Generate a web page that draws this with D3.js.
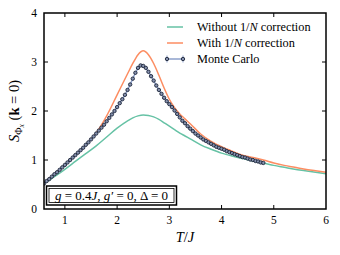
<!DOCTYPE html>
<html>
<head>
<meta charset="utf-8">
<script src="https://cdn.jsdelivr.net/npm/d3@7"></script>
<style>
  body { margin: 0; background: #fff; }
  text { font-family: "Liberation Serif", serif; fill: #000; }
</style>
</head>
<body>
<div id="chart"></div>
<script>
// T grid for the smooth theory curves
const theoryT = [0.6, 0.8, 1.0, 1.2, 1.4, 1.6, 1.8, 2.0, 2.2, 2.3, 2.4, 2.5, 2.6, 2.7, 2.8, 2.9, 3.0,
                 3.1, 3.2, 3.3, 3.4, 3.6, 3.8, 4.0, 4.2, 4.4, 4.6, 4.8, 5.0, 5.2, 5.4, 5.6, 5.8, 6.0];
const withoutCorr = [0.52, 0.66, 0.81, 0.97, 1.13, 1.29, 1.47, 1.65, 1.80, 1.86, 1.90, 1.92, 1.91, 1.88, 1.83, 1.76, 1.69,
                     1.62, 1.55, 1.49, 1.43, 1.31, 1.22, 1.14, 1.08, 1.03, 0.98, 0.94, 0.89, 0.85, 0.81, 0.78, 0.75, 0.72];
const withCorr = [0.52, 0.71, 0.90, 1.10, 1.31, 1.55, 1.90, 2.33, 2.76, 2.97, 3.15, 3.23, 3.15, 2.97, 2.73, 2.47, 2.24,
                  2.07, 1.94, 1.84, 1.74, 1.53, 1.38, 1.27, 1.18, 1.10, 1.05, 1.00, 0.94, 0.89, 0.85, 0.81, 0.78, 0.75];

// Monte Carlo points
const mcT = [0.60, 0.65, 0.70, 0.75, 0.80, 0.85, 0.90, 0.95, 1.00, 1.05, 1.10, 1.15, 1.20, 1.25, 1.30, 1.35,
             1.40, 1.45, 1.50, 1.55, 1.60, 1.65, 1.70, 1.75, 1.80, 1.85, 1.90, 1.95, 2.00, 2.05, 2.10, 2.15,
             2.20, 2.25, 2.30, 2.35, 2.40, 2.45, 2.50, 2.55, 2.60, 2.65, 2.70, 2.75, 2.80, 2.85, 2.90, 2.95,
             3.00, 3.05, 3.10, 3.15, 3.20, 3.25, 3.30, 3.35, 3.40, 3.45, 3.50, 3.55, 3.60, 3.65, 3.70, 3.75,
             3.80, 3.85, 3.90, 3.95, 4.00, 4.05, 4.10, 4.15, 4.20, 4.25, 4.30, 4.35, 4.40, 4.45, 4.50, 4.55,
             4.60, 4.65, 4.70, 4.75, 4.80];
const mcS = [0.52, 0.57, 0.61, 0.66, 0.71, 0.75, 0.80, 0.85, 0.90, 0.95, 1.00, 1.05, 1.10, 1.15, 1.20, 1.25,
             1.31, 1.36, 1.42, 1.48, 1.54, 1.60, 1.66, 1.72, 1.79, 1.86, 1.93, 2.00, 2.08, 2.16, 2.24, 2.33,
             2.43, 2.54, 2.66, 2.78, 2.88, 2.93, 2.92, 2.88, 2.80, 2.71, 2.62, 2.52, 2.43, 2.35, 2.27, 2.20,
             2.14, 2.08, 2.01, 1.94, 1.87, 1.80, 1.75, 1.69, 1.64, 1.59, 1.54, 1.50, 1.46, 1.42, 1.39, 1.36,
             1.33, 1.30, 1.27, 1.25, 1.23, 1.21, 1.18, 1.16, 1.14, 1.12, 1.10, 1.08, 1.06, 1.05, 1.03, 1.01,
             1.00, 0.98, 0.97, 0.95, 0.94];

const xTicks = [1, 2, 3, 4, 5, 6];
const yTicks = [0, 1, 2, 3, 4];

const width = 340, height = 255;
const margin = {top: 13, right: 14, bottom: 46, left: 44};
const green = "#66c2a5", orange = "#fc8d62", blue = "#8da0cb", navy = "#1b2438";

const svg = d3.select("#chart").append("svg")
    .attr("width", width)
    .attr("height", height);

const x = d3.scaleLinear().domain([0.6, 6]).range([margin.left, width - margin.right]);
const y = d3.scaleLinear().domain([0, 4]).range([height - margin.bottom, margin.top]);

svg.append("defs").append("clipPath").attr("id", "plotClip")
    .append("rect")
    .attr("x", margin.left).attr("y", margin.top)
    .attr("width", x.range()[1] - margin.left)
    .attr("height", y.range()[0] - margin.top);

const plot = svg.append("g").attr("clip-path", "url(#plotClip)");

const line = d3.line().curve(d3.curveMonotoneX);
plot.append("path")
    .attr("d", line(theoryT.map((t, i) => [x(t), y(withoutCorr[i])])))
    .attr("fill", "none").attr("stroke", green).attr("stroke-width", 1.5);
plot.append("path")
    .attr("d", line(theoryT.map((t, i) => [x(t), y(withCorr[i])])))
    .attr("fill", "none").attr("stroke", orange).attr("stroke-width", 1.5);

const mcLine = d3.line();
plot.append("path")
    .attr("d", mcLine(mcT.map((t, i) => [x(t), y(mcS[i])])))
    .attr("fill", "none").attr("stroke", blue).attr("stroke-width", 1.5);
plot.selectAll(".mc").data(mcT).enter().append("circle")
    .attr("class", "mc")
    .attr("cx", d => x(d))
    .attr("cy", (d, i) => y(mcS[i]))
    .attr("r", 1.7)
    .attr("fill", "#8590ad")
    .attr("stroke", navy)
    .attr("stroke-width", 0.9);

// frame and inward ticks on all sides
const tickLen = 4;
const axes = svg.append("g");
const x0 = x.range()[0], x1 = x.range()[1], y0 = y.range()[0], y1 = y.range()[1];
xTicks.filter(t => t < 6).forEach(t => {
    axes.append("line").attr("x1", x(t)).attr("x2", x(t)).attr("y1", y0).attr("y2", y0 - tickLen)
        .attr("stroke", "#000").attr("stroke-width", 1);
    axes.append("line").attr("x1", x(t)).attr("x2", x(t)).attr("y1", y1).attr("y2", y1 + tickLen)
        .attr("stroke", "#000").attr("stroke-width", 1);
});
yTicks.filter(t => t > 0 && t < 4).forEach(t => {
    axes.append("line").attr("x1", x0).attr("x2", x0 + tickLen).attr("y1", y(t)).attr("y2", y(t))
        .attr("stroke", "#000").attr("stroke-width", 1);
    axes.append("line").attr("x1", x1).attr("x2", x1 - tickLen).attr("y1", y(t)).attr("y2", y(t))
        .attr("stroke", "#000").attr("stroke-width", 1);
});
axes.append("rect")
    .attr("x", x0).attr("y", y1).attr("width", x1 - x0).attr("height", y0 - y1)
    .attr("fill", "none").attr("stroke", "#000").attr("stroke-width", 1.5);

axes.selectAll(".xl").data(xTicks).enter().append("text")
    .attr("x", d => x(d)).attr("y", y0 + 15)
    .attr("text-anchor", "middle").attr("font-size", 11.5)
    .text(d => d);
axes.selectAll(".yl").data(yTicks).enter().append("text")
    .attr("x", x0 - 7).attr("y", d => y(d) + 4)
    .attr("text-anchor", "end").attr("font-size", 11.5)
    .text(d => d);

// axis titles
const xt = svg.append("text").attr("x", (x0 + x1) / 2).attr("y", y0 + 33)
    .attr("text-anchor", "middle").attr("font-size", 14.5);
xt.append("tspan").attr("font-style", "italic").text("T");
xt.append("tspan").text("/");
xt.append("tspan").attr("font-style", "italic").text("J");

const yt = svg.append("text")
    .attr("transform", `translate(19,${(y0 + y1) / 2}) rotate(-90)`)
    .attr("text-anchor", "middle").attr("font-size", 14.5);
yt.append("tspan").attr("font-style", "italic").text("S");
yt.append("tspan").attr("font-size", 10).attr("dy", 3).text("Φ");
yt.append("tspan").attr("font-size", 7.5).attr("font-style", "italic").attr("dy", 2).text("x");
yt.append("tspan").attr("dy", -5).text(" (");
yt.append("tspan").attr("font-weight", "bold").text("k");
yt.append("tspan").text(" = 0)");

// legend
const legend = svg.append("g").attr("transform", "translate(167,0)");
const legendRows = [
    {label: ["Without ", "1/", "N", " correction"], color: green, ly: 27},
    {label: ["With ", "1/", "N", " correction"], color: orange, ly: 43},
    {label: ["Monte Carlo"], color: blue, ly: 59}
];
legendRows.forEach(r => {
    legend.append("line").attr("x1", 0).attr("x2", 16).attr("y1", r.ly).attr("y2", r.ly)
        .attr("stroke", r.color).attr("stroke-width", 1.5);
    const t = legend.append("text").attr("x", 30).attr("y", r.ly + 4).attr("font-size", 12.3);
    r.label.forEach(s => {
        t.append("tspan").attr("font-style", s === "N" ? "italic" : null).text(s);
    });
});
[0, 16].forEach(cx => {
    legend.append("line").attr("x1", cx).attr("x2", cx).attr("y1", 59 - 3.5).attr("y2", 59 + 3.5)
        .attr("stroke", blue).attr("stroke-width", 1);
    legend.append("circle").attr("cx", cx).attr("cy", 59).attr("r", 1.7)
        .attr("fill", "#8590ad").attr("stroke", navy).attr("stroke-width", 0.9);
});

// parameter box
const box = svg.append("g");
box.append("rect").attr("x", 46.5).attr("y", 186).attr("width", 130).attr("height", 19)
    .attr("fill", "#fff").attr("stroke", "#000").attr("stroke-width", 1.5);
box.append("rect").attr("x", 49).attr("y", 188.5).attr("width", 125).attr("height", 14)
    .attr("fill", "none").attr("stroke", "#000").attr("stroke-width", 0.8);
const bt = box.append("text").attr("x", 111.5).attr("y", 200)
    .attr("text-anchor", "middle").attr("font-size", 13);
bt.append("tspan").attr("font-style", "italic").text("g");
bt.append("tspan").text(" = 0.4");
bt.append("tspan").attr("font-style", "italic").text("J");
bt.append("tspan").text(", ");
bt.append("tspan").attr("font-style", "italic").text("g′");
bt.append("tspan").text(" = 0, Δ = 0");
</script>
</body>
</html>
